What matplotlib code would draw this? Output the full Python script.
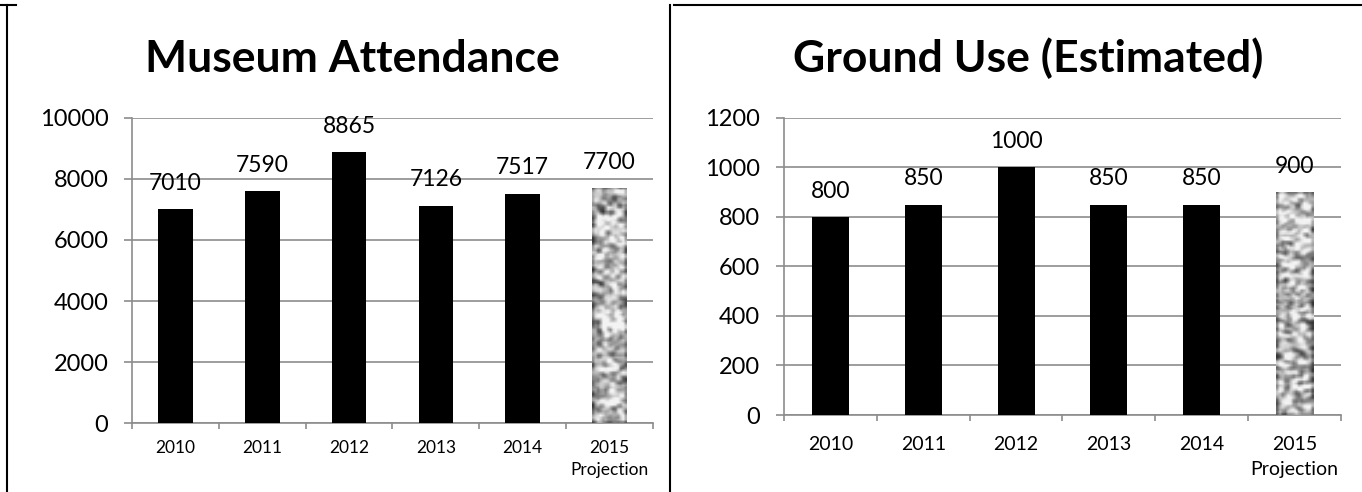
import matplotlib.pyplot as plt
import numpy as np
from matplotlib.lines import Line2D

plt.rcParams['font.family'] = ['Lato', 'DejaVu Sans']

years = ['2010', '2011', '2012', '2013', '2014', '2015\nProjection']
museum = [7010, 7590, 8865, 7126, 7517, 7700]
ground = [800, 850, 1000, 850, 850, 900]

grid_col = '#8c8c8c'


def speckle(h, w, seed):
    # grey speckle texture for the projected bar
    rng = np.random.default_rng(seed)
    z = rng.random((h, w))
    k = np.array([1, 2, 1], float)
    k /= k.sum()
    z = np.apply_along_axis(lambda r: np.convolve(r, k, mode='same'), 0, z)
    z = np.apply_along_axis(lambda r: np.convolve(r, k, mode='same'), 1, z)
    z = (z - z.mean()) / z.std()
    return np.clip(0.7 + 0.19 * z, 0.2, 0.95)


def draw(ax, vals, ymax, step, xt_fs, xpad, lsp):
    x = np.arange(len(vals))
    bars = ax.bar(x, vals, width=0.4, color='black', zorder=3)
    last = bars[-1]
    last.set_facecolor('#a8a8a8')
    bx, by = last.get_x(), last.get_y()
    im = ax.imshow(speckle(110, 14, len(vals) + ymax), cmap='gray', vmin=0, vmax=1,
                   extent=(bx, bx + last.get_width(), by, by + last.get_height()),
                   aspect='auto', zorder=4, interpolation='bilinear')
    im.set_clip_path(last)
    for xi, v in zip(x, vals):
        ax.annotate(str(v), (xi, v), xytext=(0, 14), textcoords='offset points',
                    ha='center', va='baseline', fontsize=16.5, zorder=5)
    ax.set_xlim(-0.5, len(vals) - 0.5)
    ax.set_ylim(0, ymax)
    ax.set_yticks(np.arange(0, ymax + 1, step))
    ax.set_xticks(x)
    ax.set_xticklabels(years, fontsize=xt_fs, linespacing=lsp, va='top')
    ax.set_xticks(np.arange(-0.5, len(vals)), minor=True)
    ax.tick_params(axis='x', which='major', length=0, pad=xpad)
    ax.tick_params(axis='x', which='minor', length=4, color=grid_col, width=1.2, direction='out')
    ax.tick_params(axis='y', length=6, color=grid_col, width=1.2, labelsize=17, pad=11)
    ax.yaxis.grid(True, color=grid_col, lw=1.2, zorder=0)
    ax.set_axisbelow(True)
    for s in ['top', 'right']:
        ax.spines[s].set_visible(False)
    for s in ['left', 'bottom']:
        ax.spines[s].set_color(grid_col)
        ax.spines[s].set_linewidth(1.2)


fig = plt.figure(figsize=(13.62, 4.92), dpi=100)
ax1 = fig.add_axes([0.0969, 0.1396, 0.3825, 0.6211])
ax2 = fig.add_axes([0.5756, 0.1565, 0.409, 0.6037])

draw(ax1, museum, 10000, 2000, 12.5, 12, 1.5)
draw(ax2, ground, 1200, 200, 14, 15, 1.55)

fig.text(0.2584, 0.8537, 'Museum Attendance', fontsize=32, fontweight='bold',
         ha='center', va='baseline')
fig.text(0.7548, 0.8537, 'Ground Use (Estimated)', fontsize=32, fontweight='bold',
         ha='center', va='baseline')

# panel borders
lw = 1.5
fig.add_artist(Line2D([0.0055, 0.0055], [0, 0.99], transform=fig.transFigure, color='black', lw=lw))
fig.add_artist(Line2D([0.4919, 0.4919], [0, 0.99], transform=fig.transFigure, color='black', lw=lw))
fig.add_artist(Line2D([0.0, 0.012], [0.99, 0.99], transform=fig.transFigure, color='black', lw=lw))
fig.add_artist(Line2D([0.495, 1.0], [0.99, 0.99], transform=fig.transFigure, color='black', lw=lw))

fig.savefig('out.png', dpi=100)
